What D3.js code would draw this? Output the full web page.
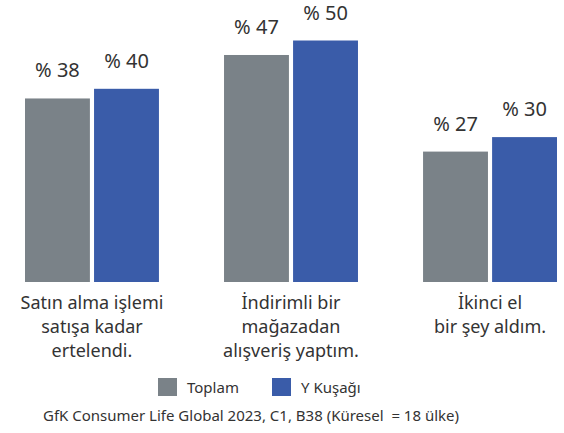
<!DOCTYPE html>
<html>
<head>
<meta charset="utf-8">
<script src="https://cdn.jsdelivr.net/npm/d3@7"></script>
<style>
  body { margin: 0; background: #fff; }
  text { font-family: "Noto Sans", sans-serif; fill: #333; }
</style>
</head>
<body>
<div id="chart"></div>
<script>
// categories (multi-line labels) and series
var categories = [
    ["Satın alma işlemi", "satışa kadar", "ertelendi."],
    ["İndirimli bir", "mağazadan", "alışveriş yaptım."],
    ["İkinci el", "bir şey aldım."]
];
var seriesNames = ["Toplam", "Y Kuşağı"];
var toplam = [38, 47, 27];
var yKusagi = [40, 50, 30];
var colors = ["#7a8288", "#3a5ca9"];
var source = "GfK Consumer Life Global 2023, C1, B38 (Küresel  = 18 ülke)";

var width = 564, height = 433;

var svg = d3.select("#chart")
    .append("svg")
    .attr("width", width)
    .attr("height", height);

//scales
var x0 = d3.scaleBand()
    .domain(d3.range(categories.length))
    .range([25, 557])
    .paddingInner(0.327)
    .paddingOuter(0);

var x1 = d3.scaleBand()
    .domain(d3.range(seriesNames.length))
    .range([0, x0.bandwidth()])
    .paddingInner(0.06);

var y = d3.scaleLinear()
    .domain([0, 50])
    .range([282, 40.5]);

var data = categories.map(function(c, i) {
    return { label: c, values: [toplam[i], yKusagi[i]] };
});

var group = svg.selectAll(".group")
    .data(data)
    .enter().append("g")
    .attr("class", "group")
    .attr("transform", function(d, i) { return "translate(" + x0(i) + ",0)"; });

group.selectAll("rect")
    .data(function(d) { return d.values; })
    .enter().append("rect")
    .attr("x", function(d, j) { return x1(j); })
    .attr("y", function(d) { return y(d); })
    .attr("width", x1.bandwidth())
    .attr("height", function(d) { return y(0) - y(d); })
    .style("fill", function(d, j) { return colors[j]; });

//value labels
group.selectAll(".val")
    .data(function(d) { return d.values; })
    .enter().append("text")
    .attr("class", "val")
    .attr("x", function(d, j) { return x1(j) + x1.bandwidth() / 2; })
    .attr("y", function(d) { return y(d) - 21; })
    .attr("text-anchor", "middle")
    .style("font-size", "20px")
    .text(function(d) { return "% " + d; });

//category labels
group.append("text")
    .attr("class", "cat")
    .attr("text-anchor", "middle")
    .style("font-size", "18px")
    .selectAll("tspan")
    .data(function(d) { return d.label; })
    .enter().append("tspan")
    .attr("x", x0.bandwidth() / 2)
    .attr("y", function(d, k) { return 309 + k * 24; })
    .text(function(d) { return d; });

//legend
var legend = svg.selectAll(".legend")
    .data(seriesNames)
    .enter().append("g")
    .attr("class", "legend")
    .attr("transform", function(d, i) { return "translate(" + (158 + i * 114) + ",378)"; });

legend.append("rect")
    .attr("width", 19)
    .attr("height", 18)
    .style("fill", function(d, i) { return colors[i]; });

legend.append("text")
    .attr("x", 29)
    .attr("y", 15)
    .style("font-size", "15px")
    .text(function(d) { return d; });

svg.append("text")
    .attr("x", 251)
    .attr("y", 421)
    .attr("text-anchor", "middle")
    .style("font-size", "15px")
    .style("white-space", "pre")
    .text(source);
</script>
</body>
</html>
